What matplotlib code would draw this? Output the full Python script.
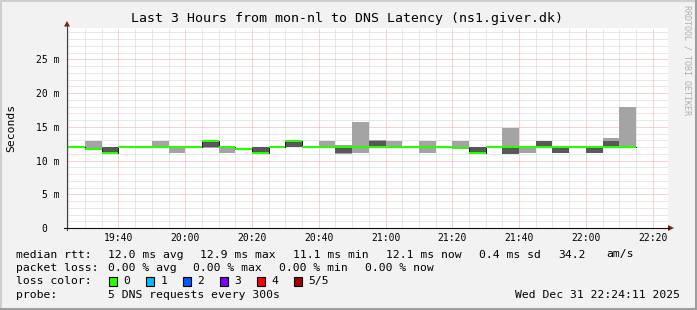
import matplotlib
matplotlib.use('Agg')
import matplotlib.pyplot as plt
import numpy as np
from matplotlib.lines import Line2D
from matplotlib.patches import Polygon, Rectangle

W, H = 697, 310

# 5 minute bins (start time of each bin)
bin_times = ['19:20', '19:25', '19:30', '19:35', '19:40', '19:45', '19:50', '19:55',
             '20:00', '20:05', '20:10', '20:15', '20:20', '20:25', '20:30', '20:35',
             '20:40', '20:45', '20:50', '20:55', '21:00', '21:05', '21:10', '21:15',
             '21:20', '21:25', '21:30', '21:35', '21:40', '21:45', '21:50', '21:55',
             '22:00', '22:05', '22:10']

# sorted ping rtts per bin (ms): p1 lowest .. p5 highest, med = median
p1 = [12.0, 12.0, 11.7, 11.1, 12.0, 12.0, 12.0, 11.1, 12.0, 11.8, 11.1, 11.75,
      11.1, 12.0, 11.95, 12.0, 12.0, 10.95, 11.1, 12.0, 12.0, 12.0, 11.1, 12.0,
      11.85, 11.1, 12.0, 10.95, 11.1, 12.0, 11.1, 12.0, 11.1, 12.0, 12.0]
p2 = [12.0, 12.0, 11.75, 11.1, 12.0, 12.0, 12.0, 12.0, 12.0, 11.95, 12.0, 11.75,
      11.1, 12.0, 11.95, 12.0, 12.0, 11.1, 11.95, 12.0, 12.0, 12.0, 12.0, 12.0,
      11.85, 11.1, 12.0, 11.0, 12.0, 12.0, 11.1, 12.0, 11.1, 12.0, 12.0]
med = [12.0, 12.0, 11.75, 11.1, 12.0, 12.0, 12.0, 12.0, 12.0, 12.9, 12.0, 11.75,
       11.1, 12.0, 12.9, 12.0, 12.0, 12.0, 12.0, 12.0, 12.0, 12.0, 12.0, 12.0,
       11.85, 11.1, 12.0, 12.0, 12.0, 12.0, 12.0, 12.0, 12.0, 12.0, 12.0]
p4 = [12.85, 12.0, 11.8, 12.0, 12.0, 12.0, 12.0, 12.0, 12.0, 12.9, 12.0, 11.75,
      12.0, 12.0, 12.9, 12.0, 12.0, 12.0, 12.05, 12.95, 12.0, 12.0, 12.0, 12.0,
      11.85, 12.0, 12.0, 12.0, 12.0, 12.9, 12.0, 12.0, 12.0, 12.9, 12.0]
p5 = [12.85, 12.0, 12.85, 12.0, 12.0, 12.0, 12.85, 12.0, 12.0, 12.95, 12.0, 11.75,
      12.0, 12.0, 12.9, 12.0, 12.85, 12.25, 15.75, 13.0, 12.85, 12.0, 12.85, 12.0,
      12.85, 12.0, 12.0, 14.85, 12.0, 12.9, 12.0, 12.0, 12.0, 13.3, 18.0]

x_ticks = ['19:40', '20:00', '20:20', '20:40', '21:00', '21:20', '21:40', '22:00', '22:20']
y_ticks = [0, 5, 10, 15, 20, 25]
y_labels = ['0  ', '5 m', '10 m', '15 m', '20 m', '25 m']

loss_labels = ['0', '1', '2', '3', '4', '5/5']
loss_colors = ['#26ff00', '#00b8ff', '#0059ff', '#7e00ff', '#ff0000', '#a00000']

stats_rtt = ['12.0 ms avg', '12.9 ms max', '11.1 ms min', '12.1 ms now', '0.4 ms sd', '34.2', 'am/s']
stats_loss = ['0.00 % avg', '0.00 % max', '0.00 % min', '0.00 % now']


def to_min(s):
    h, m = s.split(':')
    return int(h) * 60 + int(m)


def fx(x):
    return x / W


def fy(y):
    return 1 - y / H


plt.rcParams['font.family'] = 'DejaVu Sans Mono'
bg = '#f2f2f2'

fig = plt.figure(figsize=(W / 100, H / 100), dpi=100, facecolor=bg)
left, right, top, bottom = 67, 668, 27.7, 228
ax = fig.add_axes([fx(left), fy(bottom), (right - left) / W, (bottom - top) / H])
ax.set_facecolor('white')

xs = np.array([to_min(t) for t in bin_times], dtype=float)
p1, p2, med, p4, p5 = [np.array(a) for a in (p1, p2, med, p4, p5)]

# smoke
ax.bar(xs, p5 - p1, 5, bottom=p1, align='edge', color='#a4a4a4', linewidth=0, zorder=2)
ax.bar(xs, p4 - p2, 5, bottom=p2, align='edge', color='#585858', linewidth=0, zorder=3)
# median thin line and loss coloured band
ax.step(np.append(xs, xs[-1] + 5), np.append(med, med[-1]), where='post',
        color='#202020', lw=0.75, zorder=4)
sw = 0.15
ax.bar(xs, 2 * sw, 5, bottom=med - sw, align='edge', color=loss_colors[0], linewidth=0, zorder=5)

x0 = to_min('19:24') + 0.6
ax.set_xlim(x0, x0 + 180)
ax.set_ylim(0, 29.7)

ax.set_xticks([to_min(t) for t in x_ticks])
ax.set_xticklabels(x_ticks)
ax.set_xticks(np.arange(to_min('19:25'), to_min('22:25'), 5), minor=True)
ax.set_yticks(y_ticks)
ax.set_yticklabels(y_labels)
ax.set_yticks(np.arange(0, 30, 1), minor=True)
ax.tick_params(which='both', length=0, labelsize=7)
ax.tick_params(axis='y', pad=5.5)
ax.tick_params(axis='x', pad=3.5)

ax.grid(which='minor', color='#d2d2d2', lw=0.72, linestyle=(0, (1, 1)), zorder=0)
ax.grid(which='major', color='#f2a4a4', lw=0.72, linestyle=(0, (1, 1)), zorder=1)
ax.set_axisbelow(True)
for s in ax.spines.values():
    s.set_visible(False)

# axes with arrows
fig.add_artist(Line2D([fx(left), fx(left)], [fy(230), fy(25)], color='#404040', lw=0.8))
fig.add_artist(Line2D([fx(64), fx(669)], [fy(228), fy(228)], color='#101010', lw=0.8))
fig.add_artist(Polygon([[fx(64), fy(26.5)], [fx(70), fy(26.5)], [fx(67), fy(21)]],
                       closed=True, color='#8b1a1a', lw=0))
fig.add_artist(Polygon([[fx(668), fy(225)], [fx(668), fy(231)], [fx(674), fy(228)]],
                       closed=True, color='#8b1a1a', lw=0))

fig.text(fx(347), fy(18.5), 'Last 3 Hours from mon-nl to DNS Latency (ns1.giver.dk)',
         ha='center', va='center', fontsize=9.5)
fig.text(fx(11), fy(128), 'Seconds', rotation=90, ha='center', va='center', fontsize=8.2)
fig.text(fx(687), fy(5), 'RRDTOOL / TOBI OETIKER', rotation=-90, ha='center', va='top',
         fontsize=6, color='#b0b0b0')

fs = 8.2
row_y = [254.5, 268, 281, 295]
fig.text(fx(16), fy(row_y[0]), 'median rtt:', va='center', fontsize=fs)
for s, x in zip(stats_rtt, [107.6, 200, 293.3, 385.8, 479, 557.8, 606.7]):
    fig.text(fx(x), fy(row_y[0]), s, va='center', fontsize=fs)
fig.text(fx(16), fy(row_y[1]), 'packet loss:', va='center', fontsize=fs)
for s, x in zip(stats_loss, [107.6, 193.3, 279, 365.3]):
    fig.text(fx(x), fy(row_y[1]), s, va='center', fontsize=fs)
fig.text(fx(16), fy(row_y[2]), 'loss color:', va='center', fontsize=fs)
for i, (lab, c) in enumerate(zip(loss_labels, loss_colors)):
    bx = 108.5 + i * 37
    fig.add_artist(Rectangle((fx(bx), fy(row_y[2] + 4.5)), 8 / W, 9 / H, facecolor=c,
                             edgecolor='black', lw=0.8))
    fig.text(fx(bx + 15), fy(row_y[2]), lab, va='center', fontsize=fs)
fig.text(fx(16), fy(row_y[3]), 'probe:', va='center', fontsize=fs)
fig.text(fx(107.6), fy(row_y[3]), '5 DNS requests every 300s', va='center', fontsize=fs)
fig.text(fx(680), fy(row_y[3]), 'Wed Dec 31 22:24:11 2025', ha='right', va='center', fontsize=fs)

# 3d frame
fig.add_artist(Line2D([0, 1], [fy(0.5), fy(0.5)], color='#cfcfcf', lw=1.5))
fig.add_artist(Line2D([fx(0.5), fx(0.5)], [0, 1], color='#cfcfcf', lw=1.5))
fig.add_artist(Line2D([0, 1], [fy(H - 1), fy(H - 1)], color='#9e9e9e', lw=1.5))
fig.add_artist(Line2D([fx(W - 1), fx(W - 1)], [0, 1], color='#9e9e9e', lw=1.5))

fig.savefig('out.png', dpi=100, facecolor=bg)
